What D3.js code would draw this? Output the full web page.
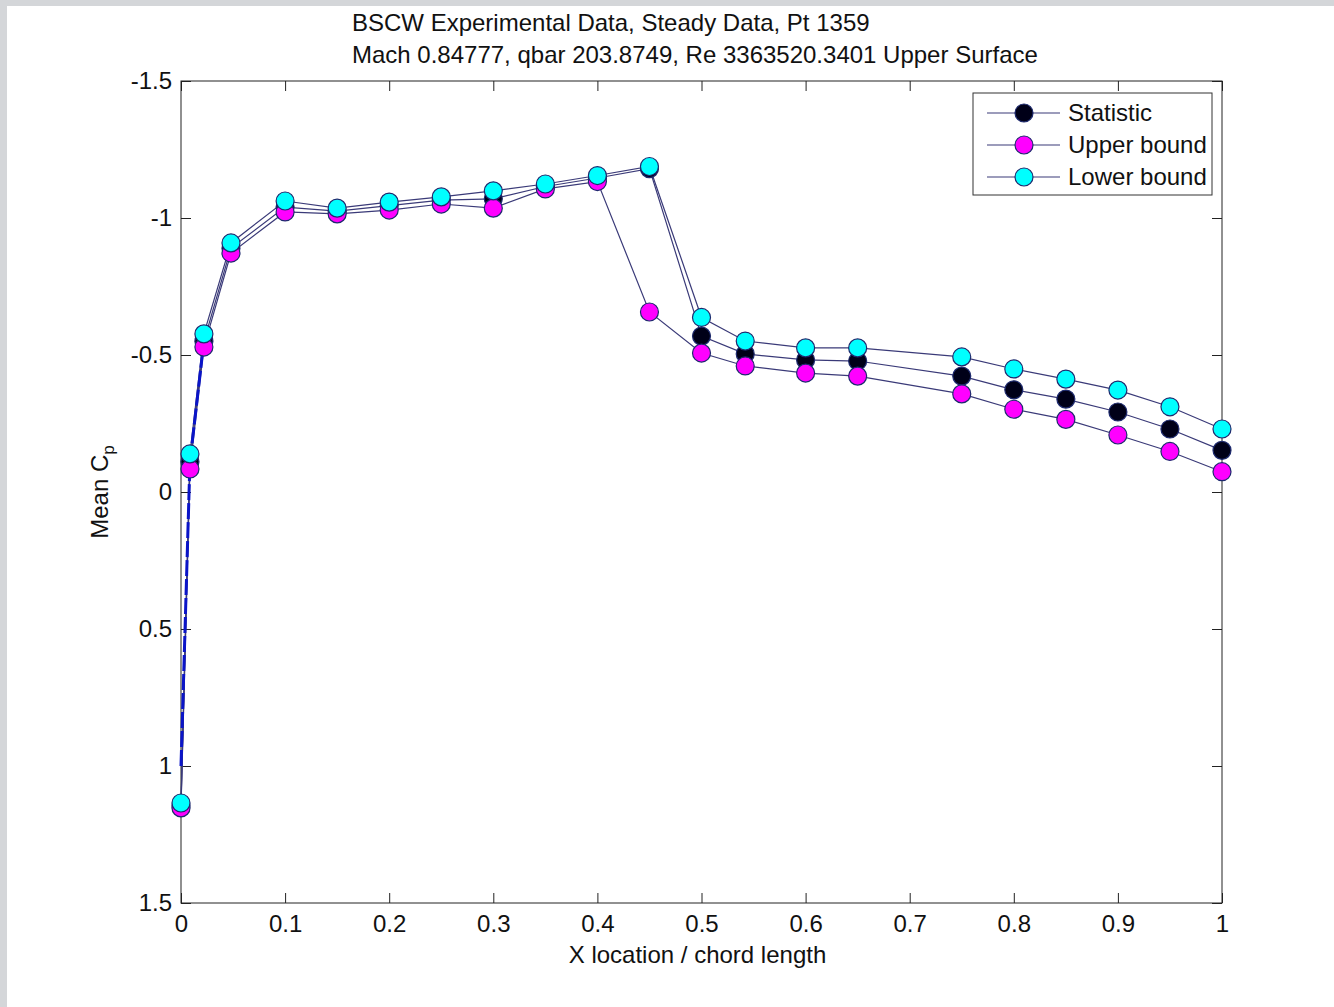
<!DOCTYPE html>
<html>
<head>
<meta charset="utf-8">
<script src="https://cdn.jsdelivr.net/npm/d3@7"></script>
<style>
  html, body { margin: 0; padding: 0; background: #ffffff; }
  svg { display: block; font-family: "Liberation Sans", Arial, sans-serif; }
</style>
</head>
<body>
<svg id="chart" width="1334" height="1007"></svg>
<script>
// Pressure tap locations along the chord (x/c)
const xLoc = [0, 0.0086, 0.022, 0.048, 0.1, 0.15, 0.2, 0.25, 0.3, 0.35, 0.4, 0.45,
              0.5, 0.542, 0.6, 0.65, 0.75, 0.8, 0.85, 0.9, 0.95, 1.0];

// Mean Cp on the upper surface
const cpStatistic = [1.145, -0.11, -0.55, -0.89, -1.04, -1.025, -1.045, -1.065, -1.07, -1.115, -1.146, -1.18,
                     -0.569, -0.504, -0.482, -0.478, -0.423, -0.373, -0.339, -0.292, -0.230, -0.152];
const cpUpper     = [1.153, -0.084, -0.529, -0.872, -1.022, -1.015, -1.029, -1.051, -1.036, -1.106, -1.133, -0.657,
                     -0.507, -0.460, -0.434, -0.423, -0.358, -0.302, -0.265, -0.208, -0.148, -0.074];
const cpLower     = [1.135, -0.139, -0.577, -0.909, -1.062, -1.036, -1.058, -1.077, -1.099, -1.124, -1.155, -1.188,
                     -0.637, -0.551, -0.526, -0.526, -0.493, -0.449, -0.412, -0.372, -0.311, -0.230];

// Dashed leading-edge trace
const xLeadingEdge  = [0, 0.0086, 0.022];
const cpLeadingEdge = [1.0, -0.11, -0.55];

const xTicks = [0, 0.1, 0.2, 0.3, 0.4, 0.5, 0.6, 0.7, 0.8, 0.9, 1];
const yTicks = [-1.5, -1, -0.5, 0, 0.5, 1, 1.5];

const seriesNames  = ["Statistic", "Upper bound", "Lower bound"];
const seriesFill   = ["#000018", "#ff00ff", "#00ffff"];

const titleLines = [
  "BSCW Experimental Data, Steady Data, Pt 1359",
  "Mach 0.84777, qbar 203.8749, Re 3363520.3401 Upper Surface"
];

(function draw() {
  const svg = d3.select("#chart");
  const W = 1334, H = 1007;
  const plotL = 181, plotR = 1222, plotT = 81, plotB = 903;
  const FONT = 24;
  const lineColor = "#3a3a78";
  const markerEdge = "#1e2a6e";

  // figure border strip
  svg.append("rect").attr("x", 0).attr("y", 0).attr("width", W).attr("height", H).attr("fill", "#d4d6d9");
  svg.append("rect").attr("x", 7).attr("y", 6).attr("width", W - 7).attr("height", H - 6).attr("fill", "#ffffff");

  const x = d3.scaleLinear().domain([0, 1]).range([plotL, plotR]);
  const y = d3.scaleLinear().domain([-1.5, 1.5]).range([plotT, plotB]);

  // plain ASCII hyphen for negatives
  const fmt = d => String(+d.toFixed(2));

  // axes with inward ticks
  const gx = svg.append("g").attr("transform", `translate(0,${plotB})`)
    .call(d3.axisBottom(x).tickValues(xTicks).tickSize(-10).tickPadding(12).tickFormat(fmt));
  const gxt = svg.append("g").attr("transform", `translate(0,${plotT})`)
    .call(d3.axisTop(x).tickValues(xTicks).tickSize(-10).tickFormat(""));
  const gy = svg.append("g").attr("transform", `translate(${plotL},0)`)
    .call(d3.axisLeft(y).tickValues(yTicks).tickSize(-10).tickPadding(9).tickFormat(fmt));
  const gyr = svg.append("g").attr("transform", `translate(${plotR},0)`)
    .call(d3.axisRight(y).tickValues(yTicks).tickSize(-10).tickFormat(""));

  [gx, gxt, gy, gyr].forEach(g => {
    g.select(".domain").remove();
    g.selectAll(".tick line").attr("stroke", "#222").attr("stroke-width", 1);
    g.selectAll(".tick text").attr("fill", "#111").style("font-size", FONT + "px")
      .style("font-family", "'Liberation Sans', Arial, sans-serif");
  });

  // plot frame
  svg.append("rect").attr("x", plotL).attr("y", plotT).attr("width", plotR - plotL).attr("height", plotB - plotT)
    .attr("fill", "none").attr("stroke", "#222").attr("stroke-width", 1);

  const line = d3.line().x(d => x(d[0])).y(d => y(d[1]));
  const series = [cpStatistic, cpUpper, cpLower].map(vals => xLoc.map((v, i) => [v, vals[i]]));

  // connecting lines for each series
  series.forEach(pts => {
    svg.append("path").datum(pts).attr("d", line).attr("fill", "none")
      .attr("stroke", lineColor).attr("stroke-width", 1.2);
  });

  // dashed leading-edge trace
  svg.append("path")
    .datum(xLeadingEdge.map((v, i) => [v, cpLeadingEdge[i]]))
    .attr("d", line).attr("fill", "none").attr("stroke", "#0a14c8")
    .attr("stroke-width", 3).attr("stroke-dasharray", "16,3");

  // markers, plotted in legend order
  series.forEach((pts, si) => {
    svg.append("g").selectAll("circle").data(pts).enter().append("circle")
      .attr("cx", d => x(d[0])).attr("cy", d => y(d[1])).attr("r", 9)
      .attr("fill", seriesFill[si]).attr("stroke", markerEdge).attr("stroke-width", 1.2);
  });

  // title
  const title = svg.append("text").attr("fill", "#111").style("font-size", FONT + "px");
  titleLines.forEach((t, i) => {
    title.append("tspan").attr("x", 352).attr("y", 31 + i * 32).text(t);
  });

  // axis labels
  svg.append("text").attr("x", (plotL + plotR) / 2 - 4).attr("y", 963).attr("text-anchor", "middle")
    .attr("fill", "#111").style("font-size", FONT + "px").text("X location / chord length");

  const yl = svg.append("text").attr("transform", "translate(108,492) rotate(-90)")
    .attr("text-anchor", "middle").attr("fill", "#111").style("font-size", FONT + "px");
  yl.append("tspan").text("Mean C");
  yl.append("tspan").attr("dy", 6).style("font-size", "17px").text("p");

  // legend
  const lg = svg.append("g");
  lg.append("rect").attr("x", 973).attr("y", 93).attr("width", 239).attr("height", 102)
    .attr("fill", "#ffffff").attr("stroke", "#333").attr("stroke-width", 1);
  seriesNames.forEach((name, i) => {
    const cy = 113 + i * 32;
    lg.append("line").attr("x1", 987).attr("x2", 1060).attr("y1", cy).attr("y2", cy)
      .attr("stroke", lineColor).attr("stroke-width", 1.2);
    lg.append("circle").attr("cx", 1024).attr("cy", cy).attr("r", 9)
      .attr("fill", seriesFill[i]).attr("stroke", markerEdge).attr("stroke-width", 1.2);
    lg.append("text").attr("x", 1068).attr("y", cy + 8).attr("fill", "#111")
      .style("font-size", FONT + "px").text(name);
  });
})();
</script>
</body>
</html>
